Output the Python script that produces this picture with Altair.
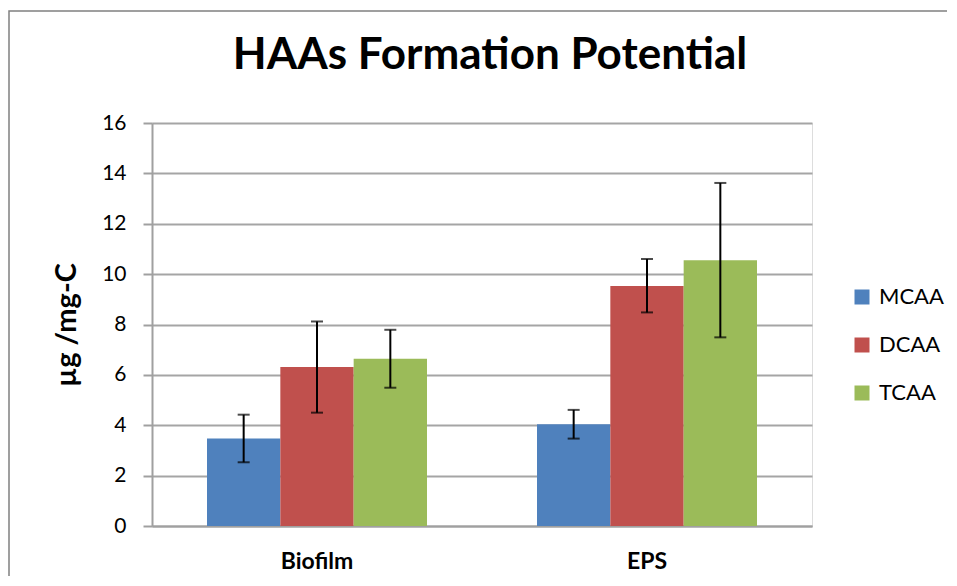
import altair as alt
import pandas as pd

categories = ["Biofilm", "EPS"]
series = ["MCAA", "DCAA", "TCAA"]
colors = ["#4F81BD", "#C0504D", "#9BBB59"]

mcaa = [3.47, 4.04]
dcaa = [6.31, 9.53]
tcaa = [6.64, 10.55]

mcaa_low = [2.53, 3.47]
mcaa_high = [4.42, 4.61]
dcaa_low = [4.50, 8.48]
dcaa_high = [8.12, 10.60]
tcaa_low = [5.49, 7.49]
tcaa_high = [7.79, 13.62]

rows = []
for s, vals, lo, hi in [("MCAA", mcaa, mcaa_low, mcaa_high),
                        ("DCAA", dcaa, dcaa_low, dcaa_high),
                        ("TCAA", tcaa, tcaa_low, tcaa_high)]:
    for c, v, l, h in zip(categories, vals, lo, hi):
        rows.append({"cat": c, "series": s, "value": v, "low": l, "high": h})
df = pd.DataFrame(rows)

FONT = "Lato"

x_enc = alt.X("cat:N", sort=categories,
              scale=alt.Scale(paddingInner=1/3, paddingOuter=1/6),
              axis=alt.Axis(title=None, labelAngle=0, labelFontWeight="bold",
                            labelFontSize=23, labelFont=FONT, labelColor="#000",
                            ticks=False, domainColor="#a0a0a0", domainWidth=2,
                            labelPadding=24, grid=False))
xoff = alt.XOffset("series:N", sort=series, scale=alt.Scale(domain=series, paddingInner=0, paddingOuter=0))

bars = alt.Chart(df).mark_bar().encode(
    x=x_enc,
    xOffset=xoff,
    y=alt.Y("value:Q", scale=alt.Scale(domain=[0, 16], nice=False),
            axis=alt.Axis(title="µg /mg-C", values=list(range(0, 17, 2)),
                          titleFontSize=29, titleFont=FONT, titleFontWeight="bold",
                          titleColor="#000", titlePadding=20,
                          labelFontSize=21, labelFont=FONT, labelColor="#000",
                          labelPadding=17, tickSize=9, tickColor="#a0a0a0", tickWidth=2,
                          domainColor="#a0a0a0", domainWidth=2,
                          gridColor="#a5a5a5", gridWidth=2)),
    color=alt.Color("series:N", sort=series,
                    scale=alt.Scale(domain=series, range=colors),
                    legend=alt.Legend(title=None, orient="none", legendX=699, legendY=163,
                                      symbolType="square", symbolSize=225,
                                      symbolStrokeWidth=0, labelFontSize=22,
                                      labelFont=FONT, labelColor="#000",
                                      labelOffset=6, rowPadding=26, padding=0)),
)

rules = alt.Chart(df).mark_rule(color="black", strokeWidth=2).encode(
    x=alt.X("cat:N", sort=categories),
    xOffset=xoff,
    y="low:Q",
    y2="high:Q",
)

caps_lo = alt.Chart(df).mark_tick(color="black", thickness=2, size=12, orient="horizontal").encode(
    x=alt.X("cat:N", sort=categories),
    xOffset=xoff,
    y="low:Q",
)
caps_hi = alt.Chart(df).mark_tick(color="black", thickness=2, size=12, orient="horizontal").encode(
    x=alt.X("cat:N", sort=categories),
    xOffset=xoff,
    y="high:Q",
)

frame = alt.Chart(pd.DataFrame({"f": [0]})).mark_rect(
    fill=None, stroke="#808080", strokeWidth=1.5).encode(
    x=alt.value(-143), x2=alt.value(830), y=alt.value(-112), y2=alt.value(480))

chart = alt.layer(bars, rules, caps_lo, caps_hi, frame).properties(
    width=660, height=403,
    title=alt.TitleParams("HAAs Formation Potential", fontSize=44, font=FONT,
                          fontWeight="bold", color="#000", anchor="middle",
                          frame="group", dx=8, baseline="alphabetic", offset=-103),
    autosize=alt.AutoSizeParams(type="none"),
    padding={"left": 144, "top": 115, "right": 135, "bottom": 50},
).configure_view(stroke=None).configure(background="white")

chart.save("out.html", embed_options={"renderer": "svg", "actions": False})
